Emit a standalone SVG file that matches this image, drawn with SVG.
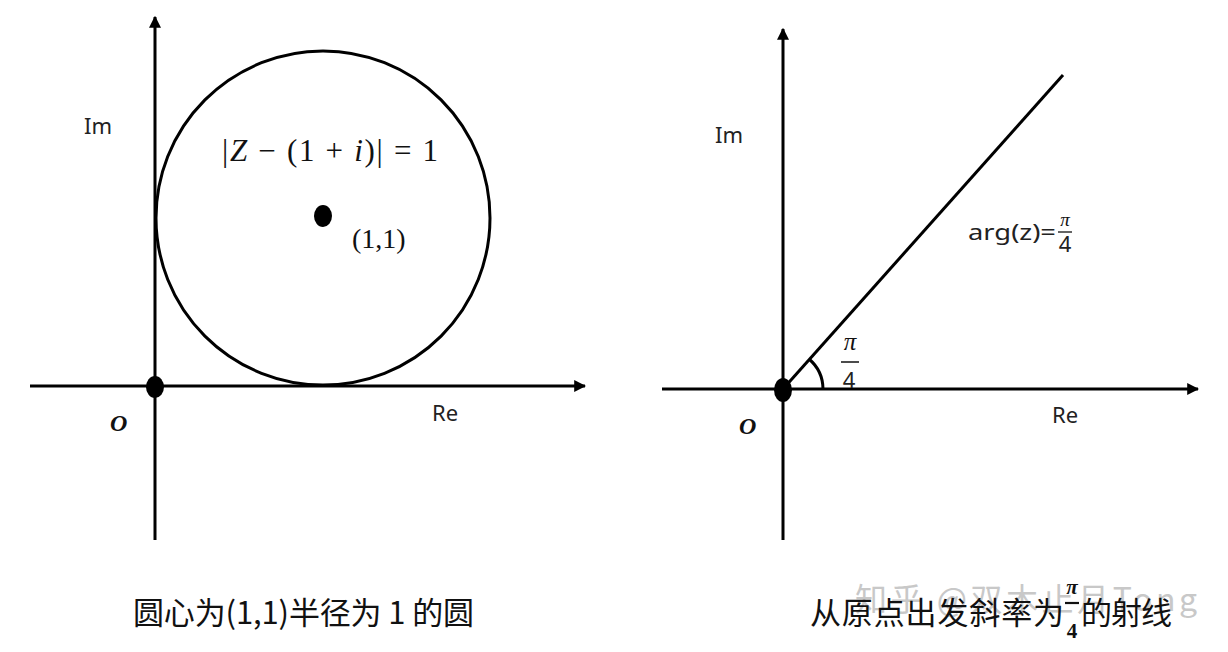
<svg xmlns="http://www.w3.org/2000/svg" width="1228" height="652" viewBox="0 0 1228 652">
<defs>
<marker id="arr" viewBox="0 0 10 10" refX="9" refY="5" markerWidth="4" markerHeight="4" markerUnits="strokeWidth" orient="auto">
<path d="M0,0 L10,5 L0,10 z" fill="#000"/>
</marker>
</defs>
<style>
.ax{stroke:#000;stroke-width:3;fill:none}
.lbl{font-family:"Noto Sans","Noto Sans CJK SC",sans-serif;font-size:22px;fill:#222}
.math{font-family:"Liberation Serif","DejaVu Serif",serif;fill:#111}
.cap{font-family:"Noto Sans CJK SC","Noto Sans",sans-serif;font-size:31px;fill:#111}
</style>
<rect width="1228" height="652" fill="#fff"/>
<g id="connectors">
<line class="ax" x1="155" y1="540" x2="155" y2="17" marker-end="url(#arr)"/>
<line class="ax" x1="30" y1="386" x2="585" y2="386" marker-end="url(#arr)"/>
<line class="ax" x1="783" y1="540" x2="783" y2="29" marker-end="url(#arr)"/>
<line class="ax" x1="662" y1="389" x2="1198" y2="389" marker-end="url(#arr)"/>
<line class="ax" x1="783" y1="389" x2="1063" y2="75"/>
<path class="ax" d="M809,359 A40,40 0 0 1 823,389" stroke-width="2.5"/>
</g>
<g id="circle">
<circle cx="323" cy="218" r="167" class="ax"/>
<ellipse cx="323" cy="216" rx="9" ry="11" fill="#000"/>
</g>
<g id="origin-left">
<ellipse cx="155" cy="387" rx="9" ry="11" fill="#000"/>
<text x="110" y="431" class="math" font-size="24" font-style="italic" font-weight="bold">O</text>
</g>
<g id="origin-right">
<ellipse cx="783" cy="390" rx="9" ry="12" fill="#000"/>
<text x="739" y="434" class="math" font-size="24" font-style="italic" font-weight="bold">O</text>
</g>
<g id="labels-left">
<text x="84" y="134" class="lbl">Im</text>
<text x="432" y="421" class="lbl">Re</text>
<text x="222" y="161" class="math" font-size="31" textLength="216" lengthAdjust="spacing">|<tspan font-style="italic">Z</tspan> − (1 + <tspan font-style="italic">i</tspan>)| = 1</text>
<text x="352" y="248" class="math" font-size="28">(1,1)</text>
</g>
<g id="labels-right">
<text x="715" y="143" class="lbl">Im</text>
<text x="1052" y="423" class="lbl">Re</text>
<text x="968" y="240" class="lbl" font-size="24" textLength="88" lengthAdjust="spacingAndGlyphs">arg(z)=</text>
<text x="1065" y="226" class="math" font-size="19" font-style="italic" text-anchor="middle">π</text>
<line x1="1058" y1="232" x2="1072" y2="232" stroke="#111" stroke-width="1.3"/>
<text x="1065" y="252" class="lbl" font-size="16" text-anchor="middle">4</text>
<text x="850" y="350" class="math" font-size="25" font-style="italic" text-anchor="middle">π</text>
<line x1="841" y1="362" x2="859" y2="362" stroke="#111" stroke-width="1.5"/>
<text x="849" y="388" class="lbl" font-size="22" text-anchor="middle">4</text>
</g>
<g id="watermark">
<text x="855" y="611" font-family="Noto Sans CJK SC,Noto Sans,sans-serif" font-size="32" fill="#c8c8c8" textLength="342" lengthAdjust="spacing">知乎 @双木止月Tong</text>
</g>
<g id="captions">
<text x="133" y="624" class="cap" textLength="341" lengthAdjust="spacing">圆心为(1,1)半径为 1 的圆</text>
<text x="810" y="624" class="cap" textLength="254" lengthAdjust="spacing">从原点出发斜率为</text>
<text x="1072" y="594" class="math" font-size="21" font-style="italic" font-weight="bold" text-anchor="middle">π</text>
<line x1="1065" y1="603" x2="1079" y2="603" stroke="#111" stroke-width="2.2"/>
<text x="1072" y="638" class="math" font-size="21" font-weight="bold" text-anchor="middle">4</text>
<text x="1081" y="624" class="cap" textLength="91" lengthAdjust="spacing">的射线</text>
</g>
</svg>
